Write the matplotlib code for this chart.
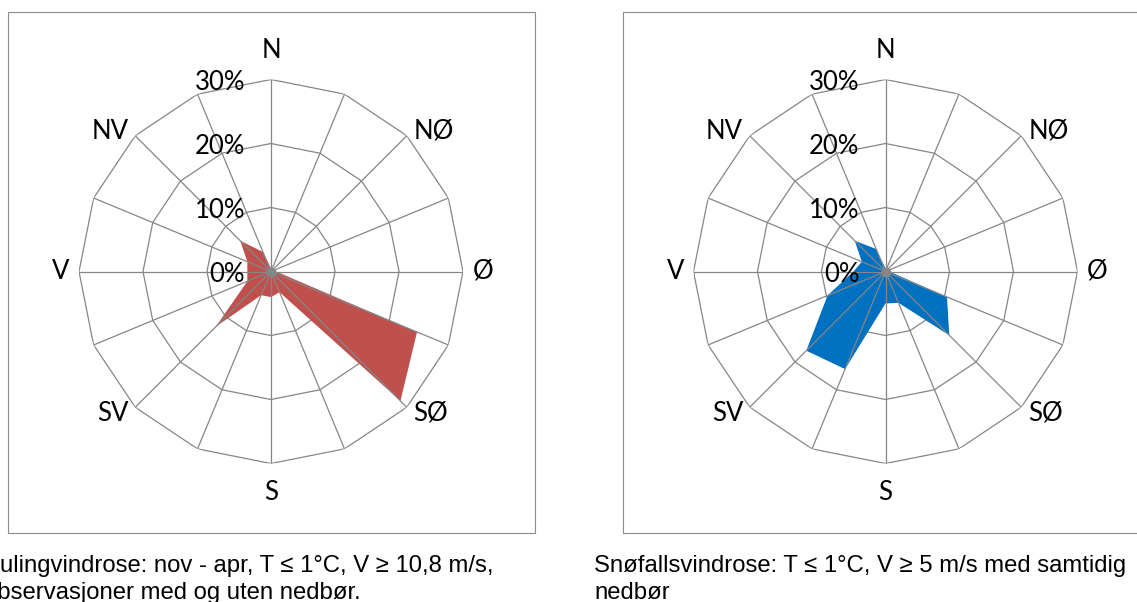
import numpy as np
import matplotlib.pyplot as plt
from matplotlib.patches import Rectangle

# 16 wind directions, clockwise from north (Norwegian labels)
directions = ['N', 'NNØ', 'NØ', 'ØNØ', 'Ø', 'ØSØ', 'SØ', 'SSØ',
              'S', 'SSV', 'SV', 'VSV', 'V', 'VNV', 'NV', 'NNV']
# share of observations per direction (%)
kuling = [0.5, 0.3, 0.3, 0.3, 0.8, 24.7, 28.6, 3.5,
          4.0, 4.0, 12.2, 4.0, 3.7, 4.0, 6.8, 3.3]
snofall = [0.5, 0.3, 0.3, 0.3, 0.6, 10.4, 14.1, 5.3,
           5.0, 16.5, 17.5, 9.8, 5.0, 4.0, 6.8, 3.8]

ring_values = [0, 10, 20, 30]
ring_labels = ['0%', '10%', '20%', '30%']
compass = ['N', 'NØ', 'Ø', 'SØ', 'S', 'SV', 'V', 'NV']

caption_left = ['Kulingvindrose: nov - apr, T \u2264 1°C, V \u2265 10,8 m/s,',
                'observasjoner med og uten nedbør.']
caption_right = ['Snøfallsvindrose: T \u2264 1°C, V \u2265 5 m/s med samtidig',
                 'nedbør']

GRID = '#868686'
W, H = 1137, 602
R_PX = 192

# where the compass labels sit, in pixels from the centre
compass_offsets = {'N': (0, 221), 'NØ': (163, 140), 'Ø': (212, 0),
                   'SØ': (160, -142), 'S': (0, -221), 'SV': (-158, -142),
                   'V': (-210, 0), 'NV': (-161, 140)}


def draw_rose(ax, values, color):
    ax.set_theta_zero_location('N')
    ax.set_theta_direction(-1)
    ax.set_ylim(0, ring_values[-1])
    ax.axis('off')

    theta = np.arange(len(directions)) * 2 * np.pi / len(directions)
    closed = np.append(theta, theta[0])

    for r in ring_values[1:]:
        ax.plot(closed, [r] * len(closed), color=GRID, lw=0.9, zorder=1)

    ax.fill(closed, list(values) + [values[0]], color=color, lw=0, zorder=2)

    for t in theta:
        ax.plot([t, t], [0, ring_values[-1]], color=GRID, lw=0.9, zorder=3)
    ax.plot(0, 0, 'o', ms=6, color=GRID, zorder=4)

    for r, lbl in zip(ring_values, ring_labels):
        ax.annotate(lbl, xy=(0, r), xytext=(-26, -3), textcoords='offset pixels',
                    ha='right', va='center', fontsize=18.5, family='Lato',
                    annotation_clip=False, zorder=5)

    for lbl in compass:
        dx, dy = compass_offsets[lbl]
        ax.annotate(lbl, xy=(0, 0), xytext=(dx, dy), textcoords='offset pixels',
                    ha='center', va='center', fontsize=18.5, family='Lato',
                    annotation_clip=False, zorder=5)


fig = plt.figure(figsize=(W / 100, H / 100), dpi=100)

# chart frames
for x0 in (8, 623):
    fig.patches.append(Rectangle((x0 / W, (H - 533) / H), 527 / W, 521 / H,
                                 transform=fig.transFigure, fill=False,
                                 edgecolor='#8c8c8c', lw=0.8))

for cx, values, color in ((271, kuling, '#C0504D'), (885.5, snofall, '#0070C0')):
    cy = H - 271.5
    ax = fig.add_axes([(cx - R_PX) / W, (cy - R_PX) / H, 2 * R_PX / W, 2 * R_PX / H],
                      projection='polar')
    draw_rose(ax, values, color)

for x0, lines in ((-16, caption_left), (594, caption_right)):
    for i, line in enumerate(lines):
        fig.text(x0 / W, (H - 572 - 27 * i) / H, line, ha='left', va='baseline',
                 fontsize=17.2, family='Liberation Sans')

fig.savefig('out.png', dpi=100)
